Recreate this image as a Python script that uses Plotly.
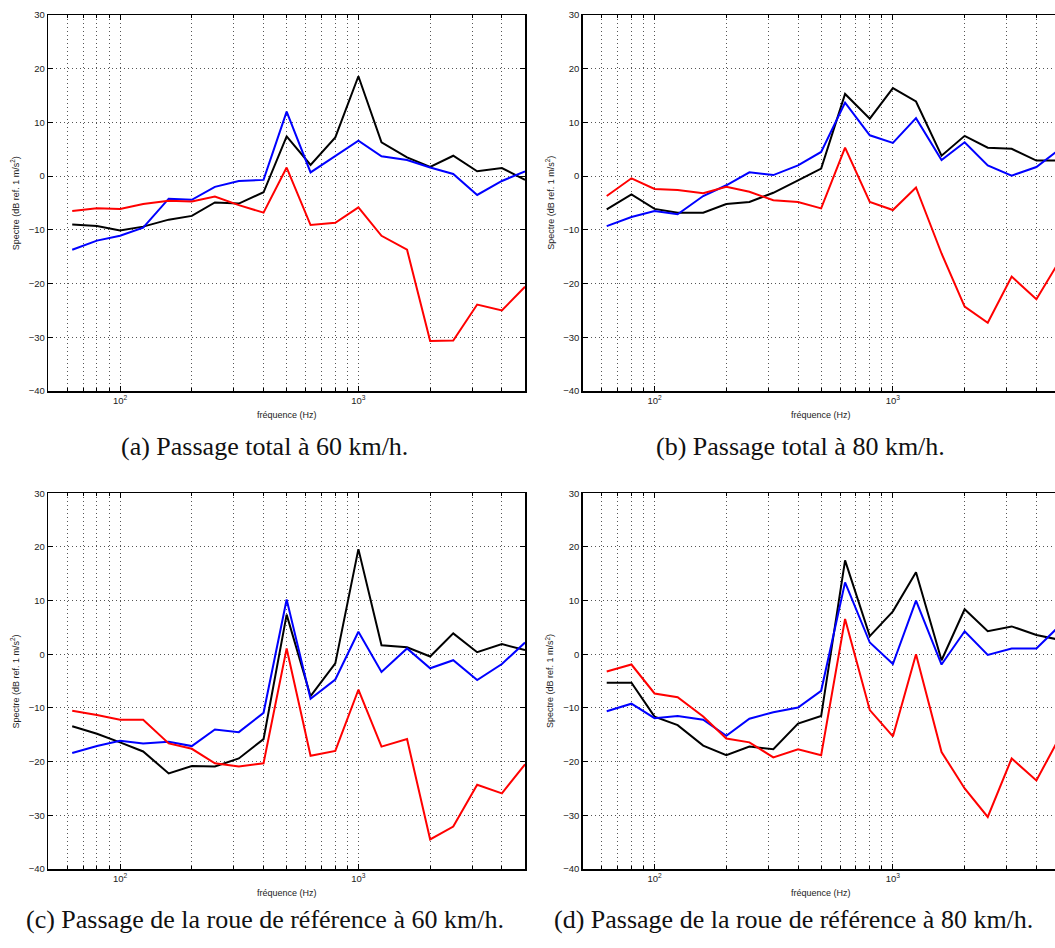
import numpy as np
import plotly.graph_objects as go

W, H = 1055, 948

freqs = [63, 80, 100, 125, 160, 200, 250, 315, 400, 500, 630, 800, 1000, 1250, 1600, 2000, 2500, 3150, 4000, 5000]

a_black = [-9.0, -9.3, -10.1, -9.4, -8.1, -7.4, -4.9, -5.1, -3.0, 7.4, 2.1, 7.2, 18.6, 6.3, 3.5, 1.7, 3.8, 0.9, 1.5, -0.7]
a_blue = [-13.7, -12.0, -11.1, -9.6, -4.2, -4.4, -2.0, -0.9, -0.7, 12.0, 0.7, 3.8, 6.6, 3.7, 3.0, 1.6, 0.4, -3.5, -0.9, 0.9]
a_red = [-6.5, -6.0, -6.1, -5.2, -4.6, -4.7, -3.8, -5.4, -6.8, 1.6, -9.1, -8.7, -5.8, -11.1, -13.7, -30.7, -30.6, -23.9, -25.0, -20.6]

b_black = [-6.2, -3.4, -6.1, -6.8, -6.8, -5.2, -4.8, -3.1, -0.8, 1.4, 15.3, 10.7, 16.4, 13.9, 3.8, 7.5, 5.3, 5.1, 2.9, 2.9]
b_blue = [-9.3, -7.6, -6.5, -7.1, -3.7, -1.7, 0.7, 0.2, 2.0, 4.5, 13.7, 7.6, 6.2, 10.8, 3.0, 6.3, 2.0, 0.1, 1.7, 5.0]
b_red = [-3.7, -0.4, -2.4, -2.6, -3.2, -2.0, -2.9, -4.5, -4.8, -6.0, 5.3, -4.8, -6.3, -2.1, -14.4, -24.3, -27.3, -18.7, -22.9, -15.8]

c_black = [-13.4, -14.8, -16.4, -18.1, -22.2, -20.8, -20.9, -19.4, -15.8, 7.4, -7.8, -1.7, 19.6, 1.7, 1.3, -0.4, 3.9, 0.4, 1.9, 0.8]
c_blue = [-18.4, -17.1, -16.1, -16.6, -16.3, -17.1, -14.0, -14.5, -10.9, 10.2, -8.3, -4.7, 4.2, -3.3, 1.1, -2.6, -1.1, -4.8, -1.8, 2.2]
c_red = [-10.5, -11.3, -12.2, -12.2, -16.6, -17.6, -20.3, -20.9, -20.3, 1.1, -18.9, -18.0, -6.6, -17.2, -15.8, -34.5, -32.1, -24.3, -25.9, -20.5]

d_black = [-5.3, -5.3, -11.6, -13.2, -17.0, -18.8, -17.2, -17.7, -12.9, -11.5, 17.5, 3.4, 8.0, 15.3, -1.1, 8.4, 4.3, 5.2, 3.6, 2.7]
d_blue = [-10.6, -9.2, -11.9, -11.5, -12.2, -15.2, -12.0, -10.8, -9.9, -6.8, 13.4, 2.2, -1.8, 10.0, -1.9, 4.3, -0.1, 1.1, 1.1, 5.3]
d_red = [-3.2, -1.9, -7.3, -8.0, -11.6, -15.7, -16.4, -19.2, -17.7, -18.8, 6.6, -10.4, -15.3, 0.0, -18.2, -25.0, -30.3, -19.4, -23.5, -15.5]

captions = [
    "(a) Passage total à 60 km/h.",
    "(b) Passage total à 80 km/h.",
    "(c) Passage de la roue de référence à 60 km/h.",
    "(d) Passage de la roue de référence à 80 km/h.",
]
x_title = "fréquence (Hz)"
y_title = "Spectre (dB ref. 1 m/s<sup>2</sup>)"
major_ticks = [100, 1000]
major_text = ["10<sup>2</sup>", "10<sup>3</sup>"]
minor_ticks = [60, 70, 80, 90, 200, 300, 400, 500, 600, 700, 800, 900, 2000, 3000, 4000]
y_ticks = [30, 20, 10, 0, -10, -20, -30, -40]

panels = [
    (a_black, a_blue, a_red),
    (b_black, b_blue, b_red),
    (c_black, c_blue, c_red),
    (d_black, d_blue, d_red),
]

# page-pixel geometry of axes boxes (left, right, top, bottom); right side of b/d cut by page
boxes = [
    (48.3, 525.0, 15.0, 391.0),
    (582.8, 1055.0, 15.0, 391.0),
    (48.3, 525.0, 493.3, 869.0),
    (582.8, 1055.0, 493.3, 869.0),
]


def px(x):
    return x / W


def py(y):
    return 1 - y / H


xlo = np.log10(50)
decade_px = (525.0 - 48.3) / (np.log10(5000) - xlo)
colors = ["#000000", "#0000ff", "#ff0000"]
GRID = "#555555"
DOTS = "1px,3px"
SANS = "Liberation Sans, Arial, sans-serif"

fig = go.Figure()
annotations = []
for i, (series, box) in enumerate(zip(panels, boxes)):
    n = "" if i == 0 else str(i + 1)
    L, R, T, B = box
    xhi = xlo + (R - L) / decade_px
    for ys, col in zip(series, colors):
        fig.add_trace(go.Scatter(x=freqs, y=ys, mode="lines",
                                 line=dict(color=col, width=2),
                                 xaxis="x" + n, yaxis="y" + n, showlegend=False,
                                 hoverinfo="skip"))
    full_box = i in (0, 2)
    fig.layout["xaxis" + n] = dict(
        type="log", domain=[px(L), min(1.0, px(R))], range=[xlo, xhi], automargin=False,
        anchor="y" + n, tickmode="array", tickvals=major_ticks, ticktext=major_text,
        ticks="inside", ticklen=5, tickwidth=1, tickcolor="#000",
        showline=True, linecolor="#000", linewidth=1.5, mirror="ticks",
        showgrid=True, gridcolor=GRID, griddash=DOTS, gridwidth=1,
        minor=dict(tickmode="array", tickvals=minor_ticks, ticks="inside", ticklen=3,
                   tickcolor="#000", showgrid=True, gridcolor=GRID,
                   griddash=DOTS, gridwidth=1),
        tickfont=dict(family=SANS, size=9.5, color="#222"),
        zeroline=False, fixedrange=True,
    )
    fig.layout["yaxis" + n] = dict(
        domain=[py(B), py(T)], range=[-40, 30], anchor="x" + n, automargin=False,
        tickmode="array", tickvals=y_ticks,
        ticks="inside", ticklen=5, tickwidth=1, tickcolor="#000",
        showline=True, linecolor="#000", linewidth=1.5,
        mirror="ticks" if full_box else False,
        showgrid=True, gridcolor=GRID, griddash=DOTS, gridwidth=1,
        tickfont=dict(family=SANS, size=9.5, color="#222"),
        zeroline=False, fixedrange=True,
    )
    xc = L + (np.log10(5000) - xlo) * decade_px / 2
    annotations.append(dict(text=x_title, xref="paper", yref="paper",
                            x=px(xc), y=py(B + 24),
                            xanchor="center", yanchor="middle", showarrow=False,
                            font=dict(family=SANS, size=9, color="#222")))
    annotations.append(dict(text=y_title, xref="paper", yref="paper",
                            x=px(L - 33), y=py((T + B) / 2), textangle=-90,
                            xanchor="center", yanchor="middle", showarrow=False,
                            font=dict(family=SANS, size=9, color="#222")))

cap_pos = [(264, 446), (800, 446), (265, 919), (793, 919)]
for cap, (cx, cy) in zip(captions, cap_pos):
    annotations.append(dict(text=cap, xref="paper", yref="paper", x=px(cx), y=py(cy),
                            xanchor="center", yanchor="middle", showarrow=False,
                            font=dict(family="Liberation Serif, Times New Roman, serif", size=26,
                                      color="#111")))

fig.update_layout(width=W, height=H, margin=dict(l=0, r=0, t=0, b=0, autoexpand=False),
                  paper_bgcolor="white", plot_bgcolor="white",
                  annotations=annotations, showlegend=False)
fig.write_html("out.html", config={"displayModeBar": False, "staticPlot": True},
               post_script="document.body.style.margin='0';document.body.style.overflow='hidden';")
